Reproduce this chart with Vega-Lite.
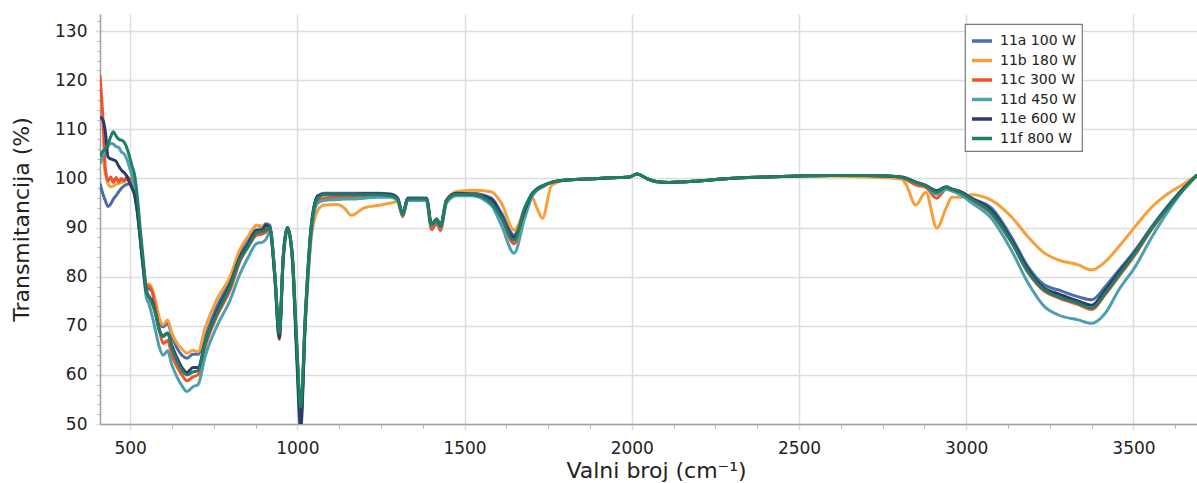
{
  "$schema": "https://vega.github.io/schema/vega-lite/v6.json",
  "width": 1097,
  "height": 410,
  "autosize": {"type": "none"},
  "padding": {"left": 100, "top": 14, "right": 0, "bottom": 59},
  "background": "white",
  "config": {
    "view": {"stroke": null},
    "font": "DejaVu Sans",
    "legend": {
      "orient": "none",
      "legendX": 865,
      "legendY": 10,
      "strokeColor": "#7a7a7a",
      "strokeWidth": 1.2,
      "fillColor": "white",
      "padding": 5,
      "symbolType": "stroke",
      "symbolSize": 400,
      "symbolStrokeWidth": 3.5,
      "labelFont": "DejaVu Sans",
      "labelFontSize": 14,
      "labelColor": "#222222",
      "labelOffset": 6,
      "rowPadding": 0.5
    }
  },
  "data": {
    "values": [
      {"x": 410, "11a 100 W": 99, "11b 180 W": 104, "11c 300 W": 121, "11d 450 W": 103, "11e 600 W": 112.5, "11f 800 W": 104.5},
      {"x": 418, "11a 100 W": 97, "11b 180 W": 104.5, "11c 300 W": 113, "11d 450 W": 104.5, "11e 600 W": 112, "11f 800 W": 105.5},
      {"x": 426, "11a 100 W": 95.5, "11b 180 W": 101, "11c 300 W": 102, "11d 450 W": 105.5, "11e 600 W": 109.5, "11f 800 W": 106},
      {"x": 434, "11a 100 W": 94.3, "11b 180 W": 99, "11c 300 W": 99.5, "11d 450 W": 106.5, "11e 600 W": 104.4, "11f 800 W": 107},
      {"x": 442, "11a 100 W": 94.8, "11b 180 W": 98.3, "11c 300 W": 100.3, "11d 450 W": 107.2, "11e 600 W": 104, "11f 800 W": 108.5},
      {"x": 450, "11a 100 W": 95.8, "11b 180 W": 98.5, "11c 300 W": 99.2, "11d 450 W": 107, "11e 600 W": 103.8, "11f 800 W": 109.5},
      {"x": 458, "11a 100 W": 96.5, "11b 180 W": 98.8, "11c 300 W": 100.2, "11d 450 W": 106.5, "11e 600 W": 103.5, "11f 800 W": 108.7},
      {"x": 466, "11a 100 W": 97.3, "11b 180 W": 99, "11c 300 W": 99.3, "11d 450 W": 106.3, "11e 600 W": 102.5, "11f 800 W": 108},
      {"x": 474, "11a 100 W": 98, "11b 180 W": 99.2, "11c 300 W": 100, "11d 450 W": 105.4, "11e 600 W": 101.7, "11f 800 W": 107.8},
      {"x": 482, "11a 100 W": 98.5, "11b 180 W": 99.4, "11c 300 W": 99.5, "11d 450 W": 105, "11e 600 W": 101.2, "11f 800 W": 107.4},
      {"x": 490, "11a 100 W": 98.8, "11b 180 W": 99.8, "11c 300 W": 100.3, "11d 450 W": 104, "11e 600 W": 100.5, "11f 800 W": 106.3},
      {"x": 498, "11a 100 W": 99, "11b 180 W": 100, "11c 300 W": 100, "11d 450 W": 102.3, "11e 600 W": 99.2, "11f 800 W": 104.5},
      {"x": 506, "11a 100 W": 98.3, "11b 180 W": 99.5, "11c 300 W": 99.5, "11d 450 W": 100.5, "11e 600 W": 98, "11f 800 W": 102.5},
      {"x": 514, "11a 100 W": 96.5, "11b 180 W": 97, "11c 300 W": 97, "11d 450 W": 97.5, "11e 600 W": 96.5, "11f 800 W": 100.5},
      {"x": 522, "11a 100 W": 93, "11b 180 W": 93.5, "11c 300 W": 93.5, "11d 450 W": 93.5, "11e 600 W": 93, "11f 800 W": 96},
      {"x": 530, "11a 100 W": 88, "11b 180 W": 88.5, "11c 300 W": 88.5, "11d 450 W": 88, "11e 600 W": 88, "11f 800 W": 90},
      {"x": 540, "11a 100 W": 81.5, "11b 180 W": 82, "11c 300 W": 82, "11d 450 W": 81, "11e 600 W": 81.5, "11f 800 W": 83},
      {"x": 548, "11a 100 W": 78, "11b 180 W": 78.5, "11c 300 W": 78.3, "11d 450 W": 76, "11e 600 W": 77, "11f 800 W": 77.5},
      {"x": 556, "11a 100 W": 77.5, "11b 180 W": 78.5, "11c 300 W": 78, "11d 450 W": 74.5, "11e 600 W": 76, "11f 800 W": 76},
      {"x": 566, "11a 100 W": 77, "11b 180 W": 77.5, "11c 300 W": 77, "11d 450 W": 72, "11e 600 W": 75, "11f 800 W": 74.5},
      {"x": 576, "11a 100 W": 74, "11b 180 W": 75, "11c 300 W": 73.5, "11d 450 W": 69, "11e 600 W": 72.5, "11f 800 W": 72.5},
      {"x": 588, "11a 100 W": 70.5, "11b 180 W": 71.5, "11c 300 W": 69, "11d 450 W": 65.5, "11e 600 W": 69, "11f 800 W": 69},
      {"x": 599, "11a 100 W": 69.8, "11b 180 W": 70.2, "11c 300 W": 66.4, "11d 450 W": 64, "11e 600 W": 68, "11f 800 W": 67.8},
      {"x": 612, "11a 100 W": 70.5, "11b 180 W": 71.2, "11c 300 W": 67, "11d 450 W": 64.9, "11e 600 W": 68.5, "11f 800 W": 68.6},
      {"x": 625, "11a 100 W": 68, "11b 180 W": 68.5, "11c 300 W": 64, "11d 450 W": 62, "11e 600 W": 66, "11f 800 W": 65.5},
      {"x": 640, "11a 100 W": 65.5, "11b 180 W": 66.5, "11c 300 W": 61.7, "11d 450 W": 59.6, "11e 600 W": 63.5, "11f 800 W": 62.9},
      {"x": 655, "11a 100 W": 64, "11b 180 W": 65.3, "11c 300 W": 60, "11d 450 W": 57.8, "11e 600 W": 61.5, "11f 800 W": 61},
      {"x": 670, "11a 100 W": 63.4, "11b 180 W": 64.4, "11c 300 W": 58.8, "11d 450 W": 56.6, "11e 600 W": 60.5, "11f 800 W": 60},
      {"x": 688, "11a 100 W": 64.2, "11b 180 W": 65, "11c 300 W": 59.6, "11d 450 W": 57.6, "11e 600 W": 61.5, "11f 800 W": 60.6},
      {"x": 703, "11a 100 W": 64.2, "11b 180 W": 64.7, "11c 300 W": 60, "11d 450 W": 58, "11e 600 W": 61.5, "11f 800 W": 60.9},
      {"x": 724, "11a 100 W": 67.8, "11b 180 W": 69.5, "11c 300 W": 65.7, "11d 450 W": 63.7, "11e 600 W": 66.5, "11f 800 W": 66.4},
      {"x": 760, "11a 100 W": 74, "11b 180 W": 75.5, "11c 300 W": 72, "11d 450 W": 70, "11e 600 W": 73, "11f 800 W": 72.5},
      {"x": 799, "11a 100 W": 79.3, "11b 180 W": 80, "11c 300 W": 77.3, "11d 450 W": 75.2, "11e 600 W": 78.5, "11f 800 W": 78},
      {"x": 828, "11a 100 W": 85, "11b 180 W": 85.5, "11c 300 W": 83, "11d 450 W": 80.5, "11e 600 W": 84, "11f 800 W": 83.5},
      {"x": 852, "11a 100 W": 87.5, "11b 180 W": 88.1, "11c 300 W": 86, "11d 450 W": 83.8, "11e 600 W": 86.5, "11f 800 W": 86},
      {"x": 879, "11a 100 W": 90.5, "11b 180 W": 90.5, "11c 300 W": 88.5, "11d 450 W": 86.8, "11e 600 W": 89.5, "11f 800 W": 89},
      {"x": 895, "11a 100 W": 90, "11b 180 W": 90.3, "11c 300 W": 88.7, "11d 450 W": 87, "11e 600 W": 89.5, "11f 800 W": 89.2},
      {"x": 905, "11a 100 W": 90.8, "11b 180 W": 90.2, "11c 300 W": 89, "11d 450 W": 87.5, "11e 600 W": 90.5, "11f 800 W": 89.5},
      {"x": 918, "11a 100 W": 90.5, "11b 180 W": 90, "11c 300 W": 89.5, "11d 450 W": 89, "11e 600 W": 90, "11f 800 W": 90},
      {"x": 933, "11a 100 W": 80, "11b 180 W": 80, "11c 300 W": 80, "11d 450 W": 80, "11e 600 W": 79.5, "11f 800 W": 80.5},
      {"x": 946, "11a 100 W": 68.5, "11b 180 W": 68, "11c 300 W": 67.2, "11d 450 W": 68.5, "11e 600 W": 67.5, "11f 800 W": 68.5},
      {"x": 958, "11a 100 W": 84, "11b 180 W": 84, "11c 300 W": 84, "11d 450 W": 83.5, "11e 600 W": 84, "11f 800 W": 84.5},
      {"x": 971, "11a 100 W": 90, "11b 180 W": 89.8, "11c 300 W": 89.8, "11d 450 W": 89.5, "11e 600 W": 90, "11f 800 W": 90},
      {"x": 985, "11a 100 W": 84, "11b 180 W": 84, "11c 300 W": 84, "11d 450 W": 83.5, "11e 600 W": 84, "11f 800 W": 84.5},
      {"x": 998, "11a 100 W": 66, "11b 180 W": 66, "11c 300 W": 66, "11d 450 W": 66, "11e 600 W": 64, "11f 800 W": 67},
      {"x": 1010, "11a 100 W": 51, "11b 180 W": 52, "11c 300 W": 51.5, "11d 450 W": 52.5, "11e 600 W": 49, "11f 800 W": 53.5},
      {"x": 1024, "11a 100 W": 72, "11b 180 W": 71, "11c 300 W": 71, "11d 450 W": 71, "11e 600 W": 71.5, "11f 800 W": 72.5},
      {"x": 1042, "11a 100 W": 90.5, "11b 180 W": 88, "11c 300 W": 89.5, "11d 450 W": 89, "11e 600 W": 90.5, "11f 800 W": 90.5},
      {"x": 1061, "11a 100 W": 96.2, "11b 180 W": 93.5, "11c 300 W": 95.5, "11d 450 W": 95, "11e 600 W": 96.5, "11f 800 W": 96},
      {"x": 1080, "11a 100 W": 97, "11b 180 W": 94.6, "11c 300 W": 96, "11d 450 W": 95.5, "11e 600 W": 96.8, "11f 800 W": 96.7},
      {"x": 1120, "11a 100 W": 97, "11b 180 W": 94.7, "11c 300 W": 96.2, "11d 450 W": 95.7, "11e 600 W": 96.8, "11f 800 W": 96.7},
      {"x": 1140, "11a 100 W": 97, "11b 180 W": 94, "11c 300 W": 96.3, "11d 450 W": 95.8, "11e 600 W": 96.8, "11f 800 W": 96.7},
      {"x": 1162, "11a 100 W": 97, "11b 180 W": 92.5, "11c 300 W": 96.3, "11d 450 W": 95.8, "11e 600 W": 96.8, "11f 800 W": 96.7},
      {"x": 1200, "11a 100 W": 97, "11b 180 W": 94, "11c 300 W": 96.4, "11d 450 W": 96, "11e 600 W": 96.9, "11f 800 W": 96.7},
      {"x": 1240, "11a 100 W": 97, "11b 180 W": 94.5, "11c 300 W": 96.5, "11d 450 W": 96.2, "11e 600 W": 96.9, "11f 800 W": 96.7},
      {"x": 1280, "11a 100 W": 96.8, "11b 180 W": 95, "11c 300 W": 96.3, "11d 450 W": 96.2, "11e 600 W": 96.8, "11f 800 W": 96.5},
      {"x": 1300, "11a 100 W": 96, "11b 180 W": 95.3, "11c 300 W": 95.8, "11d 450 W": 95.5, "11e 600 W": 96, "11f 800 W": 95.8},
      {"x": 1315, "11a 100 W": 92.8, "11b 180 W": 92.5, "11c 300 W": 92.2, "11d 450 W": 92.5, "11e 600 W": 92.8, "11f 800 W": 92.6},
      {"x": 1330, "11a 100 W": 96, "11b 180 W": 95.5, "11c 300 W": 95.7, "11d 450 W": 95.5, "11e 600 W": 96, "11f 800 W": 95.8},
      {"x": 1386, "11a 100 W": 96, "11b 180 W": 95.8, "11c 300 W": 95.7, "11d 450 W": 95.5, "11e 600 W": 96, "11f 800 W": 95.8},
      {"x": 1401, "11a 100 W": 90.8, "11b 180 W": 90.5, "11c 300 W": 89.6, "11d 450 W": 90.3, "11e 600 W": 90.6, "11f 800 W": 90.6},
      {"x": 1417, "11a 100 W": 91.7, "11b 180 W": 91.5, "11c 300 W": 90.8, "11d 450 W": 91.5, "11e 600 W": 91.6, "11f 800 W": 91.8},
      {"x": 1428, "11a 100 W": 90.4, "11b 180 W": 90.2, "11c 300 W": 89.4, "11d 450 W": 90, "11e 600 W": 90.3, "11f 800 W": 90.4},
      {"x": 1446, "11a 100 W": 95.6, "11b 180 W": 95.6, "11c 300 W": 95.2, "11d 450 W": 95, "11e 600 W": 95.6, "11f 800 W": 95.5},
      {"x": 1476, "11a 100 W": 97, "11b 180 W": 97.3, "11c 300 W": 96.8, "11d 450 W": 96.5, "11e 600 W": 97, "11f 800 W": 96.8},
      {"x": 1520, "11a 100 W": 97, "11b 180 W": 97.6, "11c 300 W": 96.8, "11d 450 W": 96.5, "11e 600 W": 96.8, "11f 800 W": 96.8},
      {"x": 1580, "11a 100 W": 96, "11b 180 W": 97.3, "11c 300 W": 95.5, "11d 450 W": 94.5, "11e 600 W": 95.8, "11f 800 W": 95},
      {"x": 1610, "11a 100 W": 93, "11b 180 W": 95, "11c 300 W": 92, "11d 450 W": 90.5, "11e 600 W": 92.5, "11f 800 W": 92},
      {"x": 1648, "11a 100 W": 88.5, "11b 180 W": 89.5, "11c 300 W": 86.7, "11d 450 W": 84.8, "11e 600 W": 88, "11f 800 W": 87.4},
      {"x": 1680, "11a 100 W": 94, "11b 180 W": 93.5, "11c 300 W": 93, "11d 450 W": 92, "11e 600 W": 93.5, "11f 800 W": 94},
      {"x": 1703, "11a 100 W": 97, "11b 180 W": 96, "11c 300 W": 96.5, "11d 450 W": 96.5, "11e 600 W": 97, "11f 800 W": 97},
      {"x": 1715, "11a 100 W": 97.8, "11b 180 W": 94.2, "11c 300 W": 97.5, "11d 450 W": 97.5, "11e 600 W": 97.8, "11f 800 W": 97.8},
      {"x": 1733, "11a 100 W": 98.5, "11b 180 W": 91.9, "11c 300 W": 98.3, "11d 450 W": 98.3, "11e 600 W": 98.5, "11f 800 W": 98.5},
      {"x": 1760, "11a 100 W": 99.2, "11b 180 W": 98.6, "11c 300 W": 99.2, "11d 450 W": 99.2, "11e 600 W": 99.2, "11f 800 W": 99.2},
      {"x": 1805, "11a 100 W": 99.7, "11b 180 W": 99.7, "11c 300 W": 99.7, "11d 450 W": 99.7, "11e 600 W": 99.7, "11f 800 W": 99.7},
      {"x": 1900, "11a 100 W": 100, "11b 180 W": 100, "11c 300 W": 100, "11d 450 W": 100, "11e 600 W": 100, "11f 800 W": 100},
      {"x": 1960, "11a 100 W": 100.2, "11b 180 W": 100.2, "11c 300 W": 100.2, "11d 450 W": 100.2, "11e 600 W": 100.2, "11f 800 W": 100.2},
      {"x": 1993, "11a 100 W": 100.3, "11b 180 W": 100.3, "11c 300 W": 100.3, "11d 450 W": 100.3, "11e 600 W": 100.3, "11f 800 W": 100.3},
      {"x": 2016, "11a 100 W": 100.9, "11b 180 W": 100.9, "11c 300 W": 100.9, "11d 450 W": 100.9, "11e 600 W": 100.9, "11f 800 W": 100.9},
      {"x": 2045, "11a 100 W": 100, "11b 180 W": 100, "11c 300 W": 100, "11d 450 W": 100, "11e 600 W": 100, "11f 800 W": 100},
      {"x": 2072, "11a 100 W": 99.4, "11b 180 W": 99.3, "11c 300 W": 99.4, "11d 450 W": 99.4, "11e 600 W": 99.4, "11f 800 W": 99.4},
      {"x": 2112, "11a 100 W": 99.2, "11b 180 W": 99.2, "11c 300 W": 99.2, "11d 450 W": 99.2, "11e 600 W": 99.2, "11f 800 W": 99.2},
      {"x": 2200, "11a 100 W": 99.5, "11b 180 W": 99.5, "11c 300 W": 99.5, "11d 450 W": 99.5, "11e 600 W": 99.5, "11f 800 W": 99.5},
      {"x": 2290, "11a 100 W": 100, "11b 180 W": 100, "11c 300 W": 100, "11d 450 W": 100, "11e 600 W": 100, "11f 800 W": 100},
      {"x": 2400, "11a 100 W": 100.3, "11b 180 W": 100.3, "11c 300 W": 100.3, "11d 450 W": 100.3, "11e 600 W": 100.3, "11f 800 W": 100.3},
      {"x": 2500, "11a 100 W": 100.5, "11b 180 W": 100.5, "11c 300 W": 100.5, "11d 450 W": 100.5, "11e 600 W": 100.5, "11f 800 W": 100.5},
      {"x": 2600, "11a 100 W": 100.6, "11b 180 W": 100.5, "11c 300 W": 100.6, "11d 450 W": 100.6, "11e 600 W": 100.6, "11f 800 W": 100.6},
      {"x": 2700, "11a 100 W": 100.6, "11b 180 W": 100.3, "11c 300 W": 100.6, "11d 450 W": 100.6, "11e 600 W": 100.6, "11f 800 W": 100.6},
      {"x": 2760, "11a 100 W": 100.5, "11b 180 W": 100.2, "11c 300 W": 100.5, "11d 450 W": 100.5, "11e 600 W": 100.5, "11f 800 W": 100.5},
      {"x": 2808, "11a 100 W": 100.2, "11b 180 W": 99.8, "11c 300 W": 100.2, "11d 450 W": 100.2, "11e 600 W": 100.3, "11f 800 W": 100.2},
      {"x": 2820, "11a 100 W": 100, "11b 180 W": 98.8, "11c 300 W": 99.8, "11d 450 W": 100, "11e 600 W": 100.1, "11f 800 W": 100},
      {"x": 2849, "11a 100 W": 99.2, "11b 180 W": 94.6, "11c 300 W": 98.7, "11d 450 W": 99.2, "11e 600 W": 99.3, "11f 800 W": 99.2},
      {"x": 2879, "11a 100 W": 98.5, "11b 180 W": 97.2, "11c 300 W": 98.2, "11d 450 W": 98.5, "11e 600 W": 98.6, "11f 800 W": 98.5},
      {"x": 2912, "11a 100 W": 97.5, "11b 180 W": 89.9, "11c 300 W": 96, "11d 450 W": 96.8, "11e 600 W": 97.5, "11f 800 W": 97.2},
      {"x": 2940, "11a 100 W": 98.2, "11b 180 W": 94, "11c 300 W": 97.8, "11d 450 W": 97.8, "11e 600 W": 98.3, "11f 800 W": 98.2},
      {"x": 2957, "11a 100 W": 97.8, "11b 180 W": 96.2, "11c 300 W": 97.5, "11d 450 W": 97.5, "11e 600 W": 97.9, "11f 800 W": 97.8},
      {"x": 2987, "11a 100 W": 97.2, "11b 180 W": 96.2, "11c 300 W": 97, "11d 450 W": 96.5, "11e 600 W": 97.2, "11f 800 W": 97},
      {"x": 3015, "11a 100 W": 96, "11b 180 W": 96.7, "11c 300 W": 95.6, "11d 450 W": 95.1, "11e 600 W": 96, "11f 800 W": 95.8},
      {"x": 3075, "11a 100 W": 94, "11b 180 W": 95.6, "11c 300 W": 92.8, "11d 450 W": 91.9, "11e 600 W": 93.5, "11f 800 W": 93},
      {"x": 3135, "11a 100 W": 88.1, "11b 180 W": 92.2, "11c 300 W": 87, "11d 450 W": 85.4, "11e 600 W": 87.5, "11f 800 W": 87.1},
      {"x": 3185, "11a 100 W": 82, "11b 180 W": 88.1, "11c 300 W": 80.8, "11d 450 W": 78.7, "11e 600 W": 81.5, "11f 800 W": 81},
      {"x": 3234, "11a 100 W": 78.3, "11b 180 W": 84.8, "11c 300 W": 77, "11d 450 W": 73.9, "11e 600 W": 77.6, "11f 800 W": 77.3},
      {"x": 3276, "11a 100 W": 77.3, "11b 180 W": 83.4, "11c 300 W": 75.7, "11d 450 W": 72.2, "11e 600 W": 76.5, "11f 800 W": 75.9},
      {"x": 3335, "11a 100 W": 75.9, "11b 180 W": 82.4, "11c 300 W": 74.3, "11d 450 W": 71.2, "11e 600 W": 75, "11f 800 W": 74.6},
      {"x": 3375, "11a 100 W": 75.3, "11b 180 W": 81.4, "11c 300 W": 73.3, "11d 450 W": 70.5, "11e 600 W": 74.2, "11f 800 W": 73.6},
      {"x": 3415, "11a 100 W": 77.9, "11b 180 W": 83, "11c 300 W": 76.3, "11d 450 W": 72.5, "11e 600 W": 77.2, "11f 800 W": 76.6},
      {"x": 3456, "11a 100 W": 81.3, "11b 180 W": 86.1, "11c 300 W": 80, "11d 450 W": 77.3, "11e 600 W": 80.8, "11f 800 W": 80.3},
      {"x": 3505, "11a 100 W": 85.4, "11b 180 W": 90.2, "11c 300 W": 84.5, "11d 450 W": 82, "11e 600 W": 85, "11f 800 W": 84.8},
      {"x": 3555, "11a 100 W": 90.2, "11b 180 W": 94.2, "11c 300 W": 89.7, "11d 450 W": 88.1, "11e 600 W": 90, "11f 800 W": 89.9},
      {"x": 3605, "11a 100 W": 94.6, "11b 180 W": 97, "11c 300 W": 94.2, "11d 450 W": 93.5, "11e 600 W": 94.4, "11f 800 W": 94.2},
      {"x": 3653, "11a 100 W": 98.3, "11b 180 W": 99, "11c 300 W": 98, "11d 450 W": 98, "11e 600 W": 98.2, "11f 800 W": 98},
      {"x": 3690, "11a 100 W": 100.7, "11b 180 W": 100.7, "11c 300 W": 100.7, "11d 450 W": 100.7, "11e 600 W": 100.7, "11f 800 W": 100.7}
    ]
  },
  "transform": [
    {"fold": ["11a 100 W", "11b 180 W", "11c 300 W", "11d 450 W", "11e 600 W", "11f 800 W"], "as": ["series", "T"]}
  ],
  "layer": [
    {
      "mark": {"type": "line", "strokeWidth": 3, "clip": true, "interpolate": "monotone"},
      "encoding": {
        "x": {
          "field": "x", "type": "quantitative",
          "scale": {"domain": [410, 3690], "nice": false, "zero": false},
          "axis": {
            "values": [500, 1000, 1500, 2000, 2500, 3000, 3500],
            "format": "d",
            "grid": true, "gridColor": "#dddddd", "gridWidth": 1.5,
            "tickSize": 6, "tickColor": "#dddddd", "tickWidth": 1.5,
            "domainColor": "#a0a0a0", "domainWidth": 1.5,
            "labelFont": "DejaVu Sans", "labelFontSize": 17, "labelColor": "#222222", "labelPadding": 10,
            "title": "Valni broj (cm⁻¹)", "titleFont": "DejaVu Sans", "titleFontSize": 22, "titleFontWeight": "normal",
            "titleColor": "#222222", "titleBaseline": "top", "titleX": 556, "titleY": 36
          }
        },
        "y": {
          "field": "T", "type": "quantitative",
          "scale": {"domain": [50, 133.5], "nice": false, "zero": false},
          "axis": {
            "values": [50, 60, 70, 80, 90, 100, 110, 120, 130],
            "format": "d",
            "grid": true, "gridColor": "#dddddd", "gridWidth": 1.5,
            "tickSize": 5, "tickColor": "#dddddd", "tickWidth": 1.5,
            "domainColor": "#a0a0a0", "domainWidth": 1.5,
            "labelFont": "DejaVu Sans", "labelFontSize": 17, "labelColor": "#222222", "labelPadding": 8,
            "title": "Transmitancija (%)", "titleFont": "DejaVu Sans", "titleFontSize": 22, "titleFontWeight": "normal",
            "titleColor": "#222222", "titleBaseline": "bottom", "titleX": -67, "titleY": 205, "titleAngle": -90
          }
        },
        "color": {
          "field": "series", "type": "nominal",
          "scale": {
            "domain": ["11a 100 W", "11b 180 W", "11c 300 W", "11d 450 W", "11e 600 W", "11f 800 W"],
            "range": ["#4c6dab", "#f7a03a", "#f0532a", "#4d9fb1", "#2b3b6c", "#1e7f63"]
          },
          "legend": {"title": null}
        }
      }
    },
    {
      "mark": {"type": "point", "opacity": 0},
      "encoding": {
        "x": {
          "field": "x", "type": "quantitative",
          "axis": {
            "orient": "bottom",
            "values": [625, 750, 875, 1125, 1250, 1375, 1625, 1750, 1875, 2125, 2250, 2375, 2625, 2750, 2875, 3125, 3250, 3375, 3625],
            "labels": false, "grid": false, "domain": false, "title": null,
            "tickSize": 4, "tickColor": "#b0b0b0", "tickWidth": 1
          }
        },
        "y": {
          "field": "T", "type": "quantitative",
          "axis": {
            "orient": "left",
            "values": [52, 54, 56, 58, 62, 64, 66, 68, 72, 74, 76, 78, 82, 84, 86, 88, 92, 94, 96, 98, 102, 104, 106, 108, 112, 114, 116, 118, 122, 124, 126, 128, 132],
            "labels": false, "grid": false, "domain": false, "title": null,
            "tickSize": 3, "tickColor": "#b0b0b0", "tickWidth": 1
          }
        }
      }
    }
  ],
  "resolve": {"axis": {"x": "independent", "y": "independent"}}
}
